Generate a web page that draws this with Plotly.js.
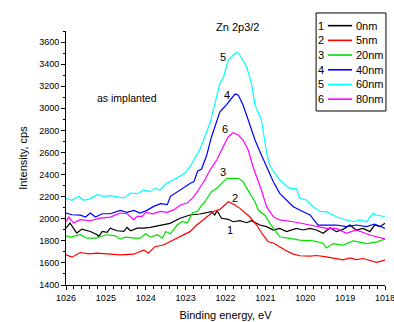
<!DOCTYPE html>
<html>
<head>
<meta charset="utf-8">
<script src="https://cdn.plot.ly/plotly-3.0.1.min.js"></script>
<style>html,body{margin:0;padding:0;background:#fff;}#chart{width:394px;height:322px;}</style>
</head>
<body>
<div id="chart"></div>
<script>
// Binding energy (eV) and intensity (cps) for each depth
const x0nm = [1026.0,1025.9,1025.73,1025.6,1025.39,1025.22,1025.18,1025.09,1024.97,1024.89,1024.72,1024.55,1024.47,1024.38,1024.21,1024.05,1023.89,1023.64,1023.39,1023.14,1022.89,1022.64,1022.35,1022.27,1022.21,1022.10,1021.93,1021.81,1021.64,1021.47,1021.35,1021.14,1020.97,1020.80,1020.64,1020.47,1020.22,1020.05,1019.88,1019.72,1019.55,1019.38,1019.22,1019.05,1018.88,1018.72,1018.55,1018.38,1018.26,1018.13,1018.0];
const y0nm = [1915,1961,1870,1906,1885,1855,1839,1885,1876,1915,1891,1885,1921,1891,1915,1915,1922,1943,1958,2004,2034,2043,2064,2034,2073,2004,1995,1973,1982,1964,1982,1943,1928,1898,1913,1883,1913,1898,1913,1898,1868,1919,1883,1904,1943,1898,1913,1883,1943,1928,1958];

const x5nm = [1026.0,1025.85,1025.64,1025.43,1025.22,1024.97,1024.64,1024.30,1024.05,1023.93,1023.77,1023.56,1023.31,1023.06,1022.89,1022.72,1022.52,1022.31,1022.14,1021.93,1021.76,1021.64,1021.39,1021.22,1021.06,1020.93,1020.80,1020.64,1020.51,1020.30,1020.14,1019.88,1019.72,1019.47,1019.22,1019.05,1018.88,1018.72,1018.55,1018.38,1018.21,1018.0];
const y5nm = [1673,1652,1694,1682,1688,1679,1673,1679,1718,1688,1747,1762,1807,1853,1883,1943,2004,2064,2085,2154,2124,2094,2018,1943,1853,1792,1780,1745,1717,1680,1665,1662,1667,1655,1642,1628,1645,1630,1640,1625,1605,1626];

const x20nm = [1026.0,1025.89,1025.64,1025.47,1025.22,1025.14,1024.97,1024.76,1024.64,1024.51,1024.30,1024.14,1024.00,1023.88,1023.71,1023.58,1023.50,1023.38,1023.21,1023.08,1022.96,1022.83,1022.70,1022.62,1022.52,1022.35,1022.22,1021.97,1021.68,1021.56,1021.39,1021.26,1021.18,1021.01,1020.89,1020.80,1020.64,1020.39,1020.14,1019.80,1019.55,1019.47,1019.30,1019.05,1018.80,1018.46,1018.20,1018.0];
const y20nm = [1845,1833,1855,1824,1824,1839,1855,1845,1815,1833,1824,1824,1864,1833,1855,1824,1885,1864,1945,1976,1961,2052,2067,2112,2154,2245,2275,2366,2366,2335,2230,2154,2079,2030,1960,1913,1837,1823,1807,1800,1778,1735,1775,1762,1800,1775,1790,1815];

const x40nm = [1026.0,1025.85,1025.64,1025.51,1025.39,1025.26,1025.09,1024.89,1024.64,1024.47,1024.30,1024.14,1023.97,1023.80,1023.63,1023.46,1023.38,1023.13,1022.87,1022.79,1022.70,1022.60,1022.47,1022.35,1022.14,1022.02,1021.89,1021.76,1021.68,1021.56,1021.43,1021.26,1021.10,1020.97,1020.80,1020.64,1020.47,1020.30,1020.05,1019.88,1019.68,1019.47,1019.22,1018.97,1018.72,1018.46,1018.26,1018.0];
const y40nm = [2052,2036,2033,2015,2052,2015,2045,2045,2076,2058,2076,2052,2076,2112,2136,2127,2203,2264,2324,2336,2430,2450,2577,2743,2969,3014,3075,3129,3120,3030,2894,2713,2577,2471,2335,2230,2170,2109,2064,2034,1943,1943,1943,1928,1943,1928,1952,1913];

const x60nm = [1026.0,1025.85,1025.68,1025.56,1025.39,1025.22,1025.05,1024.89,1024.55,1024.38,1024.21,1024.05,1023.89,1023.77,1023.64,1023.48,1023.21,1023.02,1022.89,1022.77,1022.64,1022.39,1022.14,1022.06,1021.93,1021.76,1021.71,1021.64,1021.47,1021.35,1021.26,1021.10,1020.97,1020.89,1020.64,1020.39,1020.22,1020.14,1019.97,1019.80,1019.63,1019.47,1019.22,1018.97,1018.80,1018.63,1018.46,1018.30,1018.21,1018.0];
const y60nm = [2188,2167,2203,2167,2182,2218,2203,2209,2188,2233,2227,2258,2245,2275,2260,2321,2370,2411,2471,2547,2630,2864,3226,3271,3437,3498,3507,3482,3376,3226,3030,2894,2600,2480,2351,2275,2270,2185,2170,2109,2064,2064,2018,1989,1973,1989,1973,2049,2034,2018];

const x80nm = [1026.0,1025.93,1025.81,1025.64,1025.39,1025.14,1024.89,1024.64,1024.47,1024.30,1024.21,1024.09,1024.0,1023.83,1023.64,1023.46,1023.29,1023.12,1022.96,1022.79,1022.68,1022.52,1022.39,1022.22,1022.10,1022.02,1021.93,1021.81,1021.68,1021.56,1021.43,1021.31,1021.10,1020.97,1020.80,1020.64,1020.30,1019.88,1019.47,1019.22,1018.97,1018.72,1018.38,1018.0];
const y80nm = [1976,2015,1961,1991,1982,2006,2015,2052,2045,1991,2021,2021,2058,2045,2067,2058,2082,2127,2142,2203,2260,2351,2441,2532,2622,2683,2743,2779,2758,2713,2622,2471,2260,2109,2018,1989,1973,1943,1913,1913,1868,1898,1853,1818];

const seriesX = [x0nm, x5nm, x20nm, x40nm, x60nm, x80nm];
const seriesY = [y0nm, y5nm, y20nm, y40nm, y60nm, y80nm];
const seriesNames = ['0nm','5nm','20nm','40nm','60nm','80nm'];
const seriesNums = ['1','2','3','4','5','6'];
const seriesColors = ['#000000','#ff0000','#00e000','#0000ff','#00ffff','#ff00ff'];

// curve number label positions (eV, cps)
const labelX = [1021.89, 1021.76, 1022.07, 1021.97, 1022.07, 1022.02];
const labelY = [1898, 2188, 2423, 3120, 3464, 2812];

const xTicks = [1026,1025,1024,1023,1022,1021,1020,1019,1018];
const yTicks = [1400,1600,1800,2000,2200,2400,2600,2800,3000,3200,3400,3600];

const FONT = 'Liberation Sans, Arial, sans-serif';

const traces = seriesX.map((xs, i) => ({
  type: 'scatter', mode: 'lines', x: xs, y: seriesY[i], name: seriesNames[i],
  line: {color: seriesColors[i], width: 1.2}, showlegend: false, hoverinfo: 'skip'
}));

const annotations = [];
labelX.forEach((lx, i) => annotations.push({
  x: lx, y: labelY[i], xref: 'x', yref: 'y', text: seriesNums[i], showarrow: false,
  font: {family: FONT, size: 11, color: '#000'}
}));
annotations.push({x: 1024.46, y: 3093, xref: 'x', yref: 'y', text: 'as implanted', showarrow: false,
  font: {family: FONT, size: 10.5, color: '#000'}});
annotations.push({x: 0.537, y: 1.047, xref: 'paper', yref: 'paper', text: 'Zn 2p3/2', showarrow: false,
  font: {family: FONT, size: 11, color: '#000'}});

// custom legend (number, line sample, label)
const shapes = [];
const lgTop = 1.071, lgBottom = 0.685, lgLeft = 0.784, lgRight = 1.003;
shapes.push({type: 'rect', xref: 'paper', yref: 'paper', x0: lgLeft, x1: lgRight, y0: lgBottom, y1: lgTop,
  line: {color: '#000', width: 1}, fillcolor: 'rgba(255,255,255,1)', layer: 'above'});
const rowStep = 14.7 / 254;
seriesNames.forEach((nm, i) => {
  const yy = 1.021 - i * rowStep;
  shapes.push({type: 'line', xref: 'paper', yref: 'paper', x0: 0.821, x1: 0.897, y0: yy, y1: yy,
    line: {color: seriesColors[i], width: 1.6}, layer: 'above'});
  annotations.push({x: 0.8, y: yy, xref: 'paper', yref: 'paper', text: seriesNums[i], showarrow: false,
    xanchor: 'center', yanchor: 'middle', font: {family: FONT, size: 11, color: '#000'}});
  annotations.push({x: 0.903, y: yy, xref: 'paper', yref: 'paper', text: nm, showarrow: false,
    xanchor: 'left', yanchor: 'middle', font: {family: FONT, size: 11, color: '#000'}});
});

const layout = {
  width: 394, height: 322,
  margin: {l: 66, r: 9, t: 31, b: 37, pad: 0},
  paper_bgcolor: '#fff', plot_bgcolor: '#fff',
  showlegend: false,
  font: {family: FONT, size: 9, color: '#000'},
  xaxis: {
    range: [1026, 1018], autorange: false,
    tickvals: xTicks, ticktext: xTicks.map(String),
    ticks: 'outside', ticklen: 4, tickwidth: 1, tickcolor: '#000',
    ticklabeloverflow: 'allow',
    minor: {dtick: 0.2, ticks: 'outside', ticklen: 2.5, tickwidth: 1, tickcolor: '#000', showgrid: false},
    showline: true, linecolor: '#000', linewidth: 1, mirror: false,
    showgrid: false, zeroline: false,
    tickfont: {family: FONT, size: 9, color: '#000'},
    title: {text: 'Binding energy, eV', font: {family: FONT, size: 11, color: '#000'}, standoff: 9}
  },
  yaxis: {
    range: [1400, 3700], autorange: false,
    tickvals: yTicks, ticktext: yTicks.map(String),
    ticks: 'outside', ticklen: 4, tickwidth: 1, tickcolor: '#000',
    ticklabeloverflow: 'allow',
    minor: {dtick: 100, ticks: 'outside', ticklen: 2.5, tickwidth: 1, tickcolor: '#000', showgrid: false},
    showline: true, linecolor: '#000', linewidth: 1, mirror: false,
    showgrid: false, zeroline: false,
    tickfont: {family: FONT, size: 9, color: '#000'},
    title: {text: 'Intensity, cps', font: {family: FONT, size: 11, color: '#000'}, standoff: 9}
  },
  annotations: annotations,
  shapes: shapes
};

Plotly.newPlot('chart', traces, layout, {staticPlot: true, displayModeBar: false});
</script>
</body>
</html>
